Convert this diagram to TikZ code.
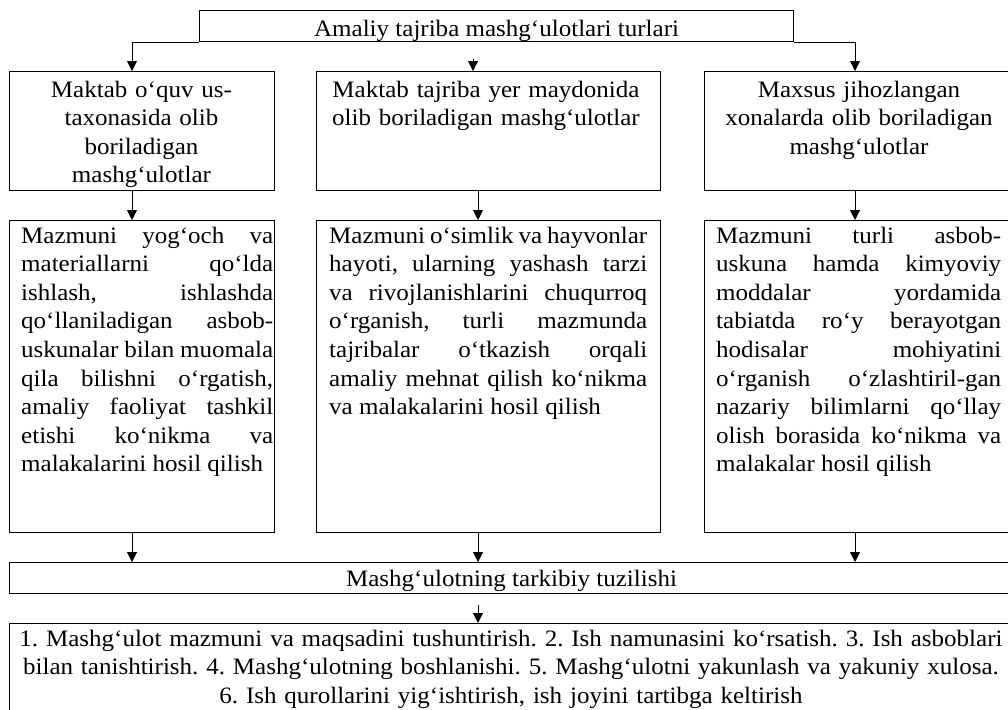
\documentclass[tikz,border=0pt]{standalone}
\usepackage{fontspec}
\setmainfont{Liberation Serif}[FakeStretch=1.065]
\usetikzlibrary{arrows.meta}
\frenchspacing
\begin{document}
\begin{tikzpicture}[x=1pt,y=-1pt,
  font=\fontsize{23.5}{28.6}\selectfont\frenchspacing,
  box/.style={draw, line width=1.1pt, inner sep=0pt, anchor=north west},
  jtxt/.style={inner sep=0pt, anchor=base west, align=justify,
    execute at begin node={\tolerance=10000\hyphenpenalty=10000\exhyphenpenalty=10000}},
  ctxt/.style={inner sep=0pt, anchor=base, align=center},
  arr/.style={line width=1pt, -{Triangle[length=10pt,width=10pt]}}]
\useasboundingbox (0,0) rectangle (1008,709);
\clip (0,0) rectangle (1008,709);
% title
\node[box, minimum width=594pt, text height=26pt, text depth=5pt] (t) at (199,10)
  {Amaliy tajriba mashg‘ulotlari turlari};
% level 1
\node[box, minimum width=265pt, minimum height=119pt] (A1) at (9,71) {};
\node[box, minimum width=344pt, minimum height=119pt] (B1) at (316,71) {};
\node[box, minimum width=309pt, minimum height=119pt] (C1) at (704,71) {};
\node[ctxt, text width=265pt] (A1t) at (141.5,97)
  {Maktab o‘quv us-\\taxonasida olib\\boriladigan\\mashg‘ulotlar};
\node[ctxt, text width=344pt] (B1t) at (486,97)
  {Maktab tajriba yer maydonida\\olib boriladigan mashg‘ulotlar};
\node[ctxt, text width=309pt] (C1t) at (859,97)
  {Maxsus jihozlangan\\xonalarda olib boriladigan\\mashg‘ulotlar};
% level 2
\node[box, minimum width=265pt, minimum height=312pt] (A2) at (9,220) {};
\node[box, minimum width=344pt, minimum height=312pt] (B2) at (316,220) {};
\node[box, minimum width=309pt, minimum height=312pt] (C2) at (704,220) {};
\node[jtxt, text width=252pt] (A2t) at (21,243)
  {Mazmuni yog‘och va\linebreak materiallarni qo‘lda\linebreak ishlash, ishlashda\linebreak qo‘llaniladigan asbob-\linebreak uskunalar bilan muomala\linebreak qila bilishni o‘rgatish,\linebreak amaliy faoliyat tashkil\linebreak etishi ko‘nikma va\linebreak malakalarini hosil qilish};
\node[jtxt, text width=318pt] (B2t) at (329,243)
  {Mazmuni o‘simlik va hayvonlar\linebreak hayoti, ularning yashash tarzi\linebreak va rivojlanishlarini chuqurroq\linebreak o‘rganish, turli mazmunda\linebreak tajribalar o‘tkazish orqali\linebreak amaliy mehnat qilish ko‘nikma\linebreak va malakalarini hosil qilish};
\node[jtxt, text width=285pt] (C2t) at (716,243)
  {Mazmuni turli asbob-\linebreak uskuna hamda kimyoviy\linebreak moddalar yordamida\linebreak tabiatda ro‘y berayotgan\linebreak hodisalar mohiyatini\linebreak o‘rganish o‘zlashtiril-gan\linebreak nazariy bilimlarni qo‘llay\linebreak olish borasida ko‘nikma va\linebreak malakalar hosil qilish};
% wide box
\node[box, minimum width=1004pt, text height=24pt, text depth=7pt] (W) at (9,562)
  {Mashg‘ulotning tarkibiy tuzilishi};
% bottom box
\node[box, minimum width=1004pt, minimum height=110pt] (B3) at (9,623) {};
\node[ctxt, text width=1000pt] (B3t) at (511,646)
  {1. Mashg‘ulot mazmuni va maqsadini tushuntirish. 2. Ish namunasini ko‘rsatish. 3. Ish asboblari\\bilan tanishtirish. 4. Mashg‘ulotning boshlanishi. 5. Mashg‘ulotni yakunlash va yakuniy xulosa.\\6. Ish qurollarini yig‘ishtirish, ish joyini tartibga keltirish};
% connectors
\draw[arr] (t.south west) -| ([xshift=123pt]A1.north west);
\draw[arr] (t.south east) -| ([xshift=151pt]C1.north west);
\draw[arr] ([xshift=157pt,yshift=12pt]B1.north west) -- ([xshift=157pt]B1.north west);
\draw[arr] ([xshift=123pt]A1.south west) -- ([xshift=123pt]A2.north west);
\draw[arr] ([xshift=162pt]B1.south west) -- ([xshift=162pt]B2.north west);
\draw[arr] ([xshift=151pt]C1.south west) -- ([xshift=151pt]C2.north west);
\draw[arr] ([xshift=123pt]A2.south west) -- ([xshift=123pt]W.north west);
\draw[arr] ([xshift=162pt]B2.south west) -- ([xshift=469pt]W.north west);
\draw[arr] ([xshift=151pt]C2.south west) -- ([xshift=846pt]W.north west);
\draw[arr] ([xshift=469pt,yshift=-11pt]W.south west) -- ([xshift=469pt]B3.north west);
\end{tikzpicture}
\end{document}
